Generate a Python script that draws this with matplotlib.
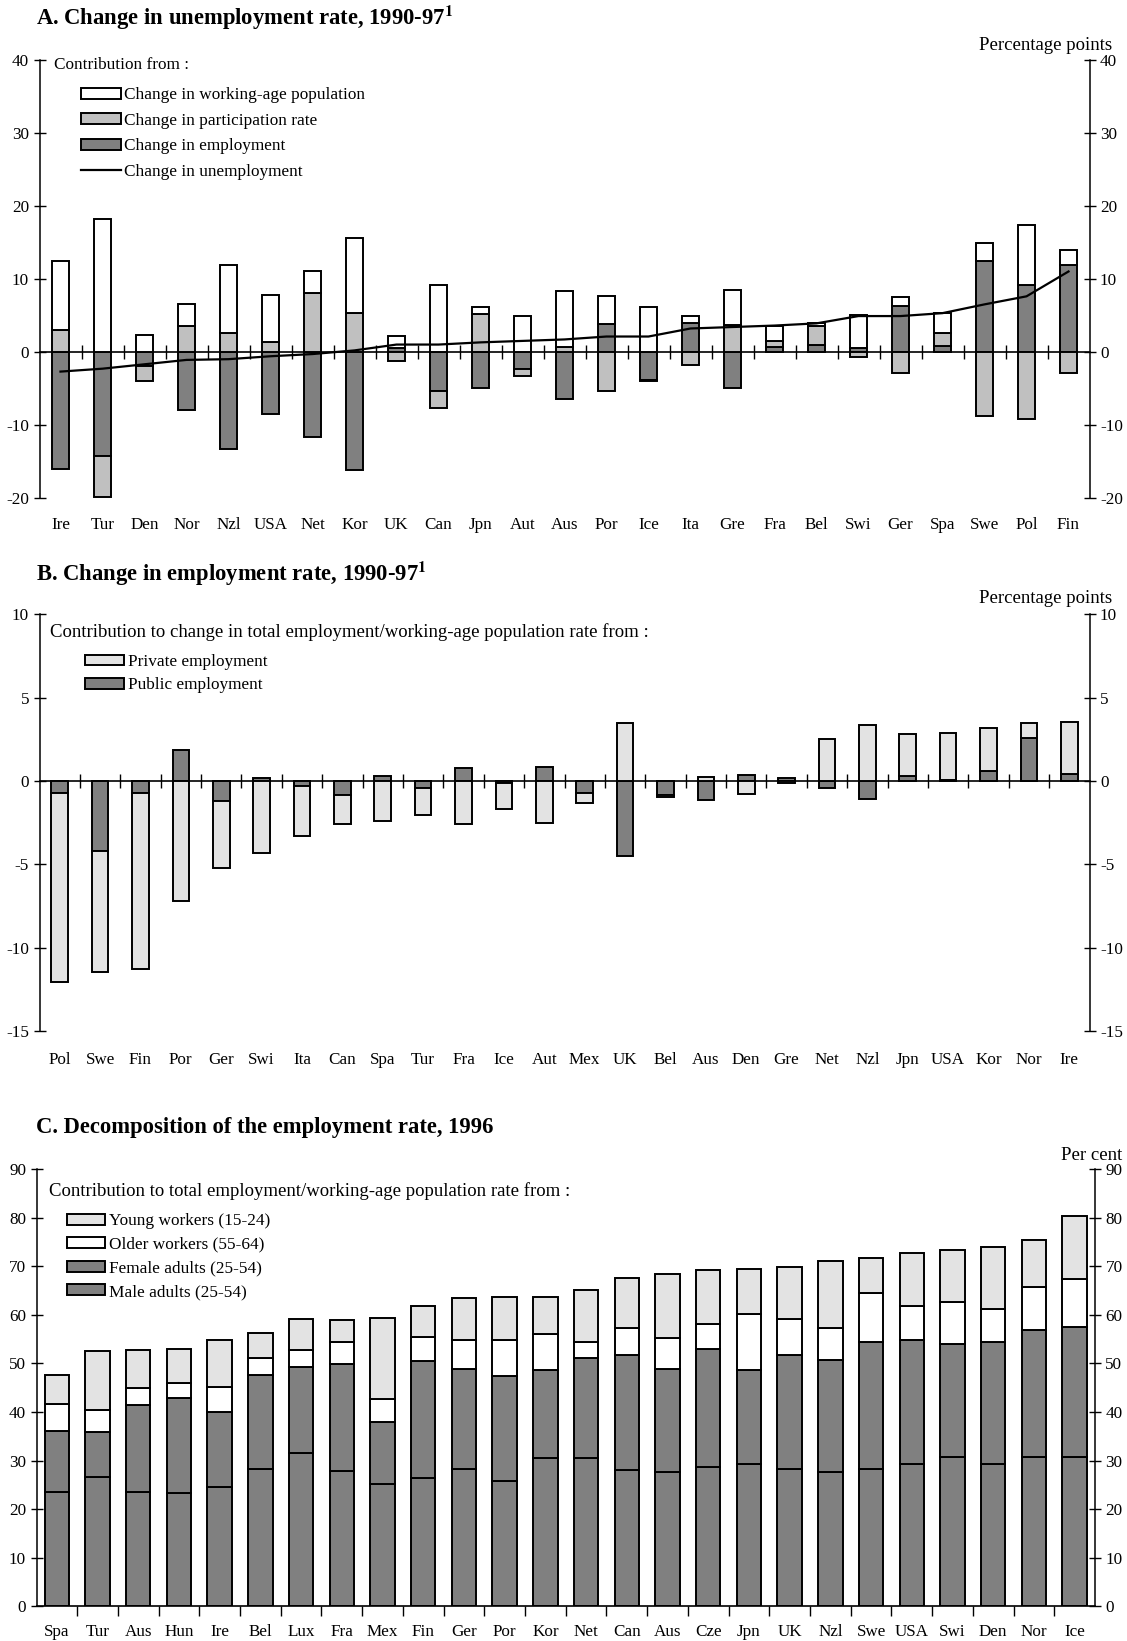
import matplotlib
matplotlib.use('Agg')
import matplotlib.pyplot as plt
import numpy as np

plt.rcParams['font.family'] = ['Liberation Serif', 'DejaVu Serif']
plt.rcParams['mathtext.fontset'] = 'stix'
plt.rcParams['axes.unicode_minus'] = False

# ---------------- Panel A data ----------------
countries_a = ["Ire", "Tur", "Den", "Nor", "Nzl", "USA", "Net", "Kor", "UK", "Can", "Jpn", "Aut", "Aus",
               "Por", "Ice", "Ita", "Gre", "Fra", "Bel", "Swi", "Ger", "Spa", "Swe", "Pol", "Fin"]
employment_a = [-16.0, -14.2, -1.9, -7.9, -13.3, -8.5, -11.6, -16.1, 0.5, -5.4, -4.9, -2.3, -6.5,
                3.8, -3.8, 4.0, -5.0, 0.6, 1.0, 0.55, 6.3, 0.8, 12.5, 9.2, 11.9]
participation_a = [3.0, -5.6, -2.1, 3.5, 2.6, 1.4, 8.1, 5.3, -1.2, -2.35, 5.25, -1.05, 0.6,
                   -5.4, -0.2, -1.8, 3.7, 0.85, 2.5, -0.7, -2.9, 1.8, -8.8, -9.2, -2.9]
working_age_a = [9.5, 18.2, 2.3, 3.1, 9.35, 6.35, 2.95, 10.3, 1.65, 9.1, 0.9, 4.9, 7.7,
                 3.8, 6.2, 0.9, 4.8, 2.15, 0.5, 4.55, 1.2, 2.75, 2.4, 8.2, 2.0]
unemployment_a = [-2.7, -2.3, -1.7, -1.1, -1.0, -0.6, -0.3, 0.2, 1.0, 1.0, 1.3, 1.5, 1.7,
                  2.1, 2.1, 3.2, 3.4, 3.6, 3.9, 4.9, 4.9, 5.3, 6.5, 7.6, 11.0]

# ---------------- Panel B data ----------------
countries_b = ["Pol", "Swe", "Fin", "Por", "Ger", "Swi", "Ita", "Can", "Spa", "Tur", "Fra", "Ice", "Aut",
               "Mex", "UK", "Bel", "Aus", "Den", "Gre", "Net", "Nzl", "Jpn", "USA", "Kor", "Nor", "Ire"]
public_b = [-0.7, -4.2, -0.7, 1.85, -1.2, 0.15, -0.3, -0.85, 0.3, -0.45, 0.75, -0.15, 0.85,
            -0.75, -4.5, -0.85, -1.15, 0.35, 0.15, -0.4, -1.1, 0.3, 0.07, 0.62, 2.55, 0.42]
private_b = [-11.4, -7.3, -10.6, -7.2, -4.0, -4.3, -3.0, -1.75, -2.4, -1.6, -2.6, -1.55, -2.5,
             -0.6, 3.45, -0.1, 0.25, -0.8, -0.12, 2.5, 3.35, 2.5, 2.8, 2.55, 0.95, 3.1]

# ---------------- Panel C data ----------------
countries_c = ["Spa", "Tur", "Aus", "Hun", "Ire", "Bel", "Lux", "Fra", "Mex", "Fin", "Ger", "Por", "Kor",
               "Net", "Can", "Aus", "Cze", "Jpn", "UK", "Nzl", "Swe", "USA", "Swi", "Den", "Nor", "Ice"]
male_c = [23.5, 26.6, 23.6, 23.3, 24.5, 28.2, 31.5, 27.8, 25.2, 26.4, 28.2, 25.8, 30.6,
          30.5, 28.1, 27.7, 28.7, 29.2, 28.3, 27.7, 28.3, 29.4, 30.8, 29.4, 30.8, 30.8]
female_c = [12.6, 9.2, 17.8, 19.6, 15.6, 19.5, 17.7, 22.0, 12.8, 24.1, 20.6, 21.7, 18.0,
            20.6, 23.6, 21.1, 24.2, 19.5, 23.5, 23.0, 26.2, 25.4, 23.2, 25.0, 26.1, 26.6]
older_c = [5.5, 4.6, 3.6, 3.1, 5.0, 3.5, 3.5, 4.7, 4.6, 5.0, 6.0, 7.3, 7.4,
           3.3, 5.5, 6.4, 5.3, 11.4, 7.4, 6.6, 9.9, 7.0, 8.7, 6.7, 8.8, 10.0]
young_c = [6.1, 12.1, 7.8, 7.0, 9.7, 5.1, 6.4, 4.5, 16.8, 6.3, 8.6, 8.9, 7.7,
           10.8, 10.3, 13.1, 11.1, 9.4, 10.6, 13.7, 7.2, 11.0, 10.6, 12.9, 9.7, 13.0]

W, H = 1127, 1641
fig = plt.figure(figsize=(W / 100, H / 100), dpi=100)

FS = 12.3        # tick labels
LFS = 12.4       # legend text
HFS = 13.5       # header / unit text
TFS = 16.3       # panel titles
EDGE = 1.4
WHITE, MID, DARK, LIGHT = "#ffffff", "#c0c0c0", "#808080", "#e3e3e3"


def px_axes(left, top, right, bottom):
    return fig.add_axes([left / W, 1 - bottom / H, (right - left) / W, (bottom - top) / H])


def style_axes(ax, ylim, yticks, n):
    ax.set_xlim(0, n)
    ax.set_ylim(*ylim)
    ax.set_yticks(yticks)
    ax.set_yticklabels([str(v) for v in yticks])
    for s in ("top", "bottom"):
        ax.spines[s].set_visible(False)
    for s in ("left", "right"):
        ax.spines[s].set_linewidth(1.1)
    ax.tick_params(axis='y', which='both', left=True, right=True, labelleft=True, labelright=True,
                   direction='inout', length=9, width=1.0, labelsize=FS, pad=3)
    ax.set_facecolor('none')


def stacked(ax, x, series, colors, width):
    pos = np.zeros(len(x))
    neg = np.zeros(len(x))
    containers = []
    for vals, col in zip(series, colors):
        v = np.array(vals, dtype=float)
        base = np.where(v >= 0, pos, neg)
        c = ax.bar(x, v, width=width, bottom=base, color=col, edgecolor='black', linewidth=EDGE, zorder=2)
        containers.append(c)
        pos = pos + np.where(v >= 0, v, 0)
        neg = neg + np.where(v < 0, v, 0)
    return containers


def zero_axis(ax, ylim, n):
    frac = (0 - ylim[0]) / (ylim[1] - ylim[0])
    sec = ax.secondary_xaxis(frac)
    sec.set_xticks(np.arange(1, n))
    sec.set_xticklabels([])
    sec.tick_params(direction='inout', length=10, width=1.0,
                    labelbottom=False, labeltop=False)
    for s in sec.spines.values():
        s.set_linewidth(1.2)
    return sec


# ================= Panel A =================
axA = px_axes(39.5, 59.6, 1089.5, 498)
nA = len(countries_a)
xA = np.arange(nA) + 0.5
ylimA = (-20, 40)
style_axes(axA, ylimA, [-20, -10, 0, 10, 20, 30, 40], nA)
bA = stacked(axA, xA, [employment_a, participation_a, working_age_a], [DARK, MID, WHITE], 0.4)
lnA, = axA.plot(xA, unemployment_a, color='black', linewidth=1.6, zorder=3)
axA.set_xticks(xA)
axA.set_xticklabels(countries_a)
axA.tick_params(axis='x', length=0, labelsize=FS, pad=13.5)
zero_axis(axA, ylimA, nA)
axA.text(0.0138, 0.987, "Contribution from :", transform=axA.transAxes, fontsize=LFS, va='center', ha='left')
axA.legend(handles=[bA[2], bA[1], bA[0], lnA],
           labels=["Change in working-age population", "Change in participation rate",
                   "Change in employment", "Change in unemployment"],
           loc='upper left', bbox_to_anchor=(0.0395, 0.937), frameon=False, borderpad=0, borderaxespad=0,
           handlelength=2.3, handleheight=0.6, handletextpad=0.2, labelspacing=0.55, fontsize=LFS)
fig.text(1112 / W, 1 - 46 / H, "Percentage points", ha='right', va='center', fontsize=HFS)
fig.text(36 / W, 1 - 18 / H, r"A. Change in unemployment rate, 1990-97$^{\mathbf{1}}$",
         ha='left', va='center', fontsize=TFS, fontweight='bold')

# ================= Panel B =================
axB = px_axes(39.5, 614.3, 1089.5, 1030.8)
nB = len(countries_b)
xB = np.arange(nB) + 0.5
ylimB = (-15, 10)
style_axes(axB, ylimB, [-15, -10, -5, 0, 5, 10], nB)
bB = stacked(axB, xB, [public_b, private_b], [DARK, LIGHT], 0.41)
axB.set_xticks(xB)
axB.set_xticklabels(countries_b)
axB.tick_params(axis='x', length=0, labelsize=FS, pad=15)
zero_axis(axB, ylimB, nB)
axB.text(0.0099, 0.957, "Contribution to change in total employment/working-age population rate from :",
         transform=axB.transAxes, fontsize=HFS, va='center', ha='left')
axB.legend(handles=[bB[1], bB[0]], labels=["Private employment", "Public employment"],
           loc='upper left', bbox_to_anchor=(0.0438, 0.9045), frameon=False, borderpad=0, borderaxespad=0,
           handlelength=2.25, handleheight=0.6, handletextpad=0.2, labelspacing=0.42, fontsize=LFS)
fig.text(1112 / W, 1 - 599 / H, "Percentage points", ha='right', va='center', fontsize=HFS)
fig.text(36 / W, 1 - 573.5 / H, r"B. Change in employment rate, 1990-97$^{\mathbf{1}}$",
         ha='left', va='center', fontsize=TFS, fontweight='bold')

# ================= Panel C =================
axC = px_axes(36.5, 1169, 1095, 1606.4)
nC = len(countries_c)
xC = np.arange(nC) + 0.5
ylimC = (0, 90)
style_axes(axC, ylimC, list(range(0, 91, 10)), nC)
axC.spines['bottom'].set_visible(True)
axC.spines['bottom'].set_linewidth(1.2)
bC = stacked(axC, xC, [male_c, female_c, older_c, young_c], [DARK, DARK, WHITE, LIGHT], 0.6)
axC.set_xticks(xC)
axC.set_xticklabels(countries_c)
axC.set_xticks(np.arange(1, nC), minor=True)
axC.tick_params(axis='x', which='major', length=0, labelsize=FS, pad=12.5)
axC.tick_params(axis='x', which='minor', direction='out', length=7, width=1.0)
axC.text(0.0115, 0.950, "Contribution to total employment/working-age population rate from :",
         transform=axC.transAxes, fontsize=HFS, va='center', ha='left')
axC.legend(handles=[bC[3], bC[2], bC[1], bC[0]],
           labels=["Young workers (15-24)", "Older workers (55-64)", "Female adults (25-54)",
                   "Male adults (25-54)"],
           loc='upper left', bbox_to_anchor=(0.0284, 0.899), frameon=False, borderpad=0, borderaxespad=0,
           handlelength=2.25, handleheight=0.6, handletextpad=0.2, labelspacing=0.44, fontsize=LFS)
fig.text(1122 / W, 1 - 1155 / H, "Per cent", ha='right', va='center', fontsize=HFS)
fig.text(36 / W, 1 - 1128 / H, "C. Decomposition of the employment rate, 1996",
         ha='left', va='center', fontsize=TFS, fontweight='bold')

fig.savefig("out.png", dpi=100)
